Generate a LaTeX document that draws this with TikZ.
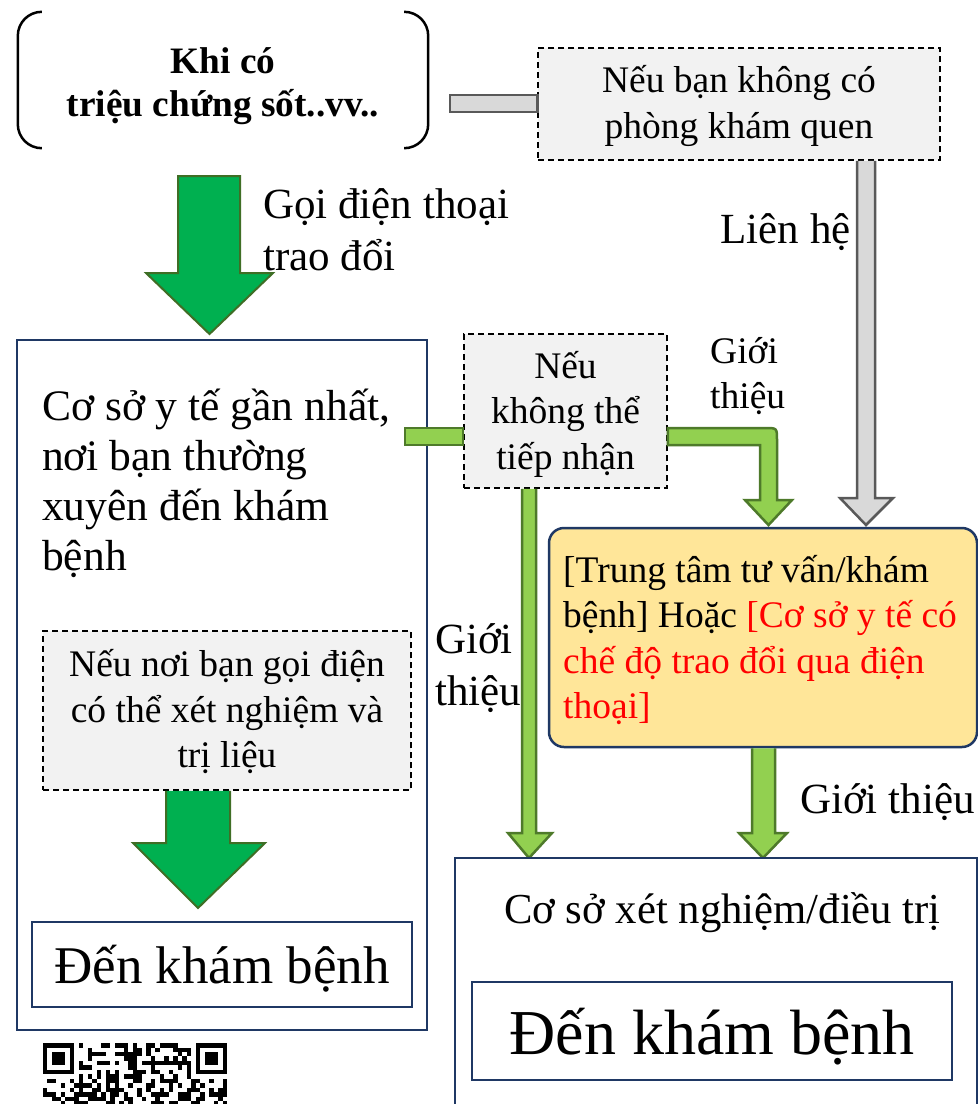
\documentclass[tikz,border=0pt]{standalone}
\usepackage{fontspec}
\setmainfont{Liberation Serif}
\usetikzlibrary{calc}
\definecolor{navy}{HTML}{1F3864}
\definecolor{boxgrey}{HTML}{F2F2F2}
\definecolor{dkgreen}{HTML}{00B050}
\definecolor{dkgreenline}{HTML}{3F6E25}
\definecolor{ltgreen}{HTML}{92D050}
\definecolor{ltgreenline}{HTML}{4E7A2A}
\definecolor{lgrey}{HTML}{D9D9D9}
\definecolor{dgrey}{HTML}{595959}
\definecolor{yellowbox}{HTML}{FFE699}
\definecolor{redtxt}{HTML}{FF0000}
\begin{document}
\begin{tikzpicture}[x=1pt,y=-1pt,
  box/.style={draw=navy,line width=2pt,fill=white,inner sep=0pt},
  dbox/.style={draw=black,line width=1.5pt,dash pattern=on 6pt off 4pt,fill=boxgrey,inner sep=0pt,align=center},
  darr/.style={fill=dkgreen,draw=dkgreenline,line width=2pt},
  larr/.style={fill=ltgreen,draw=ltgreenline,line width=2.5pt},
  garr/.style={fill=lgrey,draw=dgrey,line width=2.5pt},
  bracket/.style={draw=black,line width=2.5pt,rounded corners=24pt},
  txt/.style={inner sep=0pt,align=left},
  f35/.style={font=\fontsize{37.5}{45.5}\selectfont},
  f40/.style={font=\fontsize{43}{52}\selectfont},
  f42/.style={font=\fontsize{43.5}{50}\selectfont}]
\clip (0,0) rectangle (978,1104);
\fill[white] (0,0) rectangle (978,1104);

% top-left bracketed text
\node[inner sep=0pt,minimum width=410pt,minimum height=136pt] (sym) at (223,80) {};
\node[txt,align=center,font=\fontsize{37.3}{43}\bfseries\selectfont] (symt) at (223,86) {Khi có\\triệu chứng sốt..vv..};
\draw[bracket] ([xshift=22pt]sym.north west) -- (sym.north west) -- (sym.south west) -- ([xshift=22pt]sym.south west);
\draw[bracket] ([xshift=-22pt]sym.north east) -- (sym.north east) -- (sym.south east) -- ([xshift=-22pt]sym.south east);

% top-right dashed box
\node[dbox,f35,minimum width=402pt,minimum height=112pt] (q) at (739,104) {};
\node[txt,align=center,f35] (qt) at (739,106) {Nếu bạn không có\\phòng khám quen};
\coordinate (barL) at (450,95);
\draw[garr,line width=2.5pt] (barL) rectangle (q.west |- 0,112);

% grey arrow down
\draw[garr] (857,0 |- q.south) -- (857,498) -- (840,498) -- (866,525) -- (893,498) -- (875,498) -- (875,0 |- q.south);
\node[txt,f40,anchor=east] (lh) at (851,232) {Liên hệ};

% big green arrow 1
\draw[darr] (178,176) -- (240,176) -- (240,273) -- (273,273) -- (209.5,334) -- (146,273) -- (178,273) -- cycle;
\node[txt,f40,anchor=west] (goi) at (263,230) {Gọi điện thoại\\trao đổi};

% left big box
\node[box,minimum width=410pt,minimum height=690pt] (L) at (222,685) {};
\node[txt,f42,anchor=west] (ltxt) at (42,483) {Cơ sở y tế gần nhất,\\nơi bạn thường\\xuyên đến khám\\bệnh};

% inner dashed box
\node[dbox,f35,minimum width=368pt,minimum height=159pt] (d2) at (227,710.5) {};
\node[txt,align=center,f35] (d2t) at (227,712) {Nếu nơi bạn gọi điện\\có thể xét nghiệm và\\trị liệu};
\draw[darr] (166,0 |- d2.south) -- (166,843) -- (133,843) -- (198,908) -- (265,843) -- (230,843) -- (230,0 |- d2.south);
\node[box,minimum width=380pt,minimum height=85pt] (e1) at (222,964.5) {};
\node[txt,font=\fontsize{53}{58}\selectfont] (e1t) at (222,969) {Đến khám bệnh};

% QR code
\begin{scope}
\pgfmathsetseed{4711}
\def\qm{4.49}
\foreach \r in {0,...,13}{\foreach \c in {0,...,40}{
  \pgfmathtruncatemacro\bit{rnd<0.5}
  \ifnum\bit=1 \fill[black] ({43+\c*\qm},{1043+\r*\qm}) rectangle ++(\qm,\qm);\fi
}}
\fill[white] (43,1043) rectangle ++({8*\qm},{8*\qm});
\fill[white] ({43+33*\qm},1043) rectangle ++({8*\qm},{8*\qm});
\foreach \xo in {0,34}{
  \fill[black] ({43+\xo*\qm},1043) rectangle ++({7*\qm},{7*\qm});
  \fill[white] ({43+(\xo+1)*\qm},{1043+\qm}) rectangle ++({5*\qm},{5*\qm});
  \fill[black] ({43+(\xo+2)*\qm},{1043+2*\qm}) rectangle ++({3*\qm},{3*\qm});
}
\end{scope}

% middle dashed box
\node[dbox,minimum width=203pt,minimum height=154pt] (m) at (565.5,411) {};
\node[txt,align=center,f35] (mt) at (565.5,414) {Nếu\\không thể\\tiếp nhận};
\coordinate (gbarL) at (405,428);
\draw[larr,line width=2pt] (gbarL) rectangle (m.west |- 0,445);
\draw[larr] (m.east |- 0,428) -- (765,428) .. controls (777,428) .. (777,440) -- (777,500) -- (792,500) -- (768.5,525) -- (745,500) -- (760,500) -- (760,445) -- (m.east |- 0,445) -- cycle;
\node[txt,f35,anchor=west] (gt1) at (710,376) {Giới\\thiệu};

% vertical green arrow from m
\draw[larr] (522,0 |- m.south) -- (522,833) -- (508,833) -- (529,858) -- (552,833) -- (536,833) -- (536,0 |- m.south);
\node[txt,f40,anchor=west] (gt2) at (435,668) {Giới\\thiệu};

% yellow box
\node[draw=navy,line width=2.5pt,fill=yellowbox,rounded corners=15pt,minimum width=428pt,minimum height=219pt,inner sep=0pt] (yb) at (763,637.5) {};
\node[txt,f35,anchor=west] (ybt) at (563,640) {[Trung tâm tư vấn/khám\\bệnh] Hoặc \textcolor{redtxt}{[Cơ sở y tế có}\\\textcolor{redtxt}{chế độ trao đổi qua điện}\\\textcolor{redtxt}{thoại]}};

% arrow from yellow box
\draw[larr] (752,0 |- yb.south) -- (752,833) -- (739,833) -- (763,858) -- (787,833) -- (775,833) -- (775,0 |- yb.south);
\node[txt,f40,anchor=west] (gt3) at (800,802) {Giới thiệu};

% bottom-right box
\node[box,minimum width=522pt,minimum height=280pt] (b) at (716,998) {};
\node[txt,font=\fontsize{42.7}{48}\selectfont] (bt) at (722.5,913) {Cơ sở xét nghiệm/điều trị};
\node[box,minimum width=480pt,minimum height=98pt] (e2) at (712,1031) {};
\node[txt,font=\fontsize{64}{70}\selectfont] (e2t) at (712,1037) {Đến khám bệnh};
\end{tikzpicture}
\end{document}
